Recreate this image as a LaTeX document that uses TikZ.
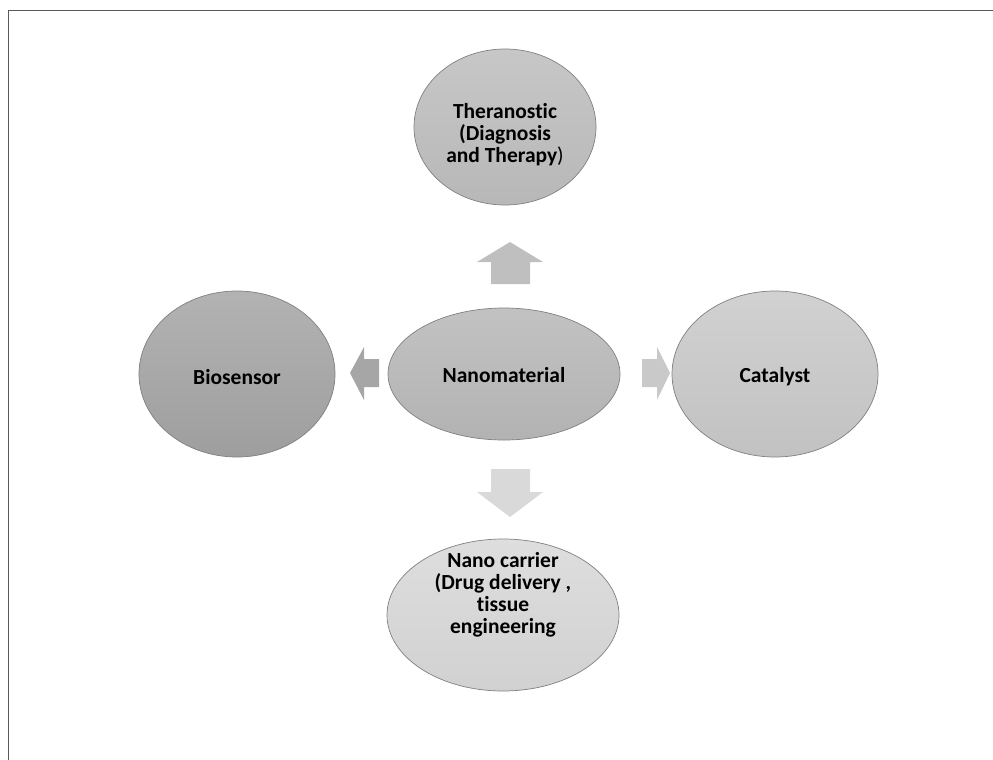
\documentclass[tikz,border=0pt]{standalone}
\usepackage{fontspec}
\setmainfont[Ligatures=NoCommon]{Carlito}
\usetikzlibrary{shapes.geometric}
\begin{document}
\begin{tikzpicture}[x=1pt,y=-1pt,
  bubble/.style={ellipse, draw=black!50, line width=0.7pt, inner sep=0pt},
  label text/.style={font=\bfseries\fontsize{21.5}{22}\selectfont, align=center, text=black, inner sep=0pt}]
\useasboundingbox (0,0) rectangle (993,760);
\draw[black!65, line width=1pt] (993,11) -- (8,11) -- (8,760);

\node[bubble, minimum width=182pt, minimum height=156pt, top color=black!22, bottom color=black!28] (top) at (505,127) {};
\node[bubble, minimum width=232pt, minimum height=132pt, top color=black!24, bottom color=black!30] (mid) at (504,374) {};
\node[bubble, minimum width=196pt, minimum height=166pt, top color=black!30, bottom color=black!38] (left) at (237,374) {};
\node[bubble, minimum width=206pt, minimum height=166pt, top color=black!18, bottom color=black!24] (right) at (775,374) {};
\node[bubble, minimum width=232pt, minimum height=152pt, top color=black!13, bottom color=black!18] (bot) at (503,615) {};

\node[label text] (topt) at (505,135) {Theranostic\\(Diagnosis\\and Therapy\textmd{)}};
\node[label text, anchor=base] (midt) at (504,382) {Nanomaterial};
\node[label text, anchor=base] (leftt) at (237,384) {Biosensor};
\node[label text, anchor=base] (rightt) at (775,382) {Catalyst};
\node[label text] (bott) at (503,595) {Nano carrier\\(Drug delivery ,\\tissue\\engineering};

% block arrows
\fill[black!25] (491,284) -- (491,262) -- (477,262) -- (510,242) -- (543,262) -- (530,262) -- (530,284) -- cycle;
\fill[black!15] (491,469) -- (491,492) -- (477,492) -- (510,517) -- (543,492) -- (530,492) -- (530,469) -- cycle;
\fill[black!35] (379,359) -- (364,359) -- (364,347) -- (350,373) -- (364,400) -- (364,387) -- (379,387) -- cycle;
\fill[black!21] (642,359) -- (657,359) -- (657,347) -- (670,373) -- (657,400) -- (657,387) -- (642,387) -- cycle;
\end{tikzpicture}
\end{document}
